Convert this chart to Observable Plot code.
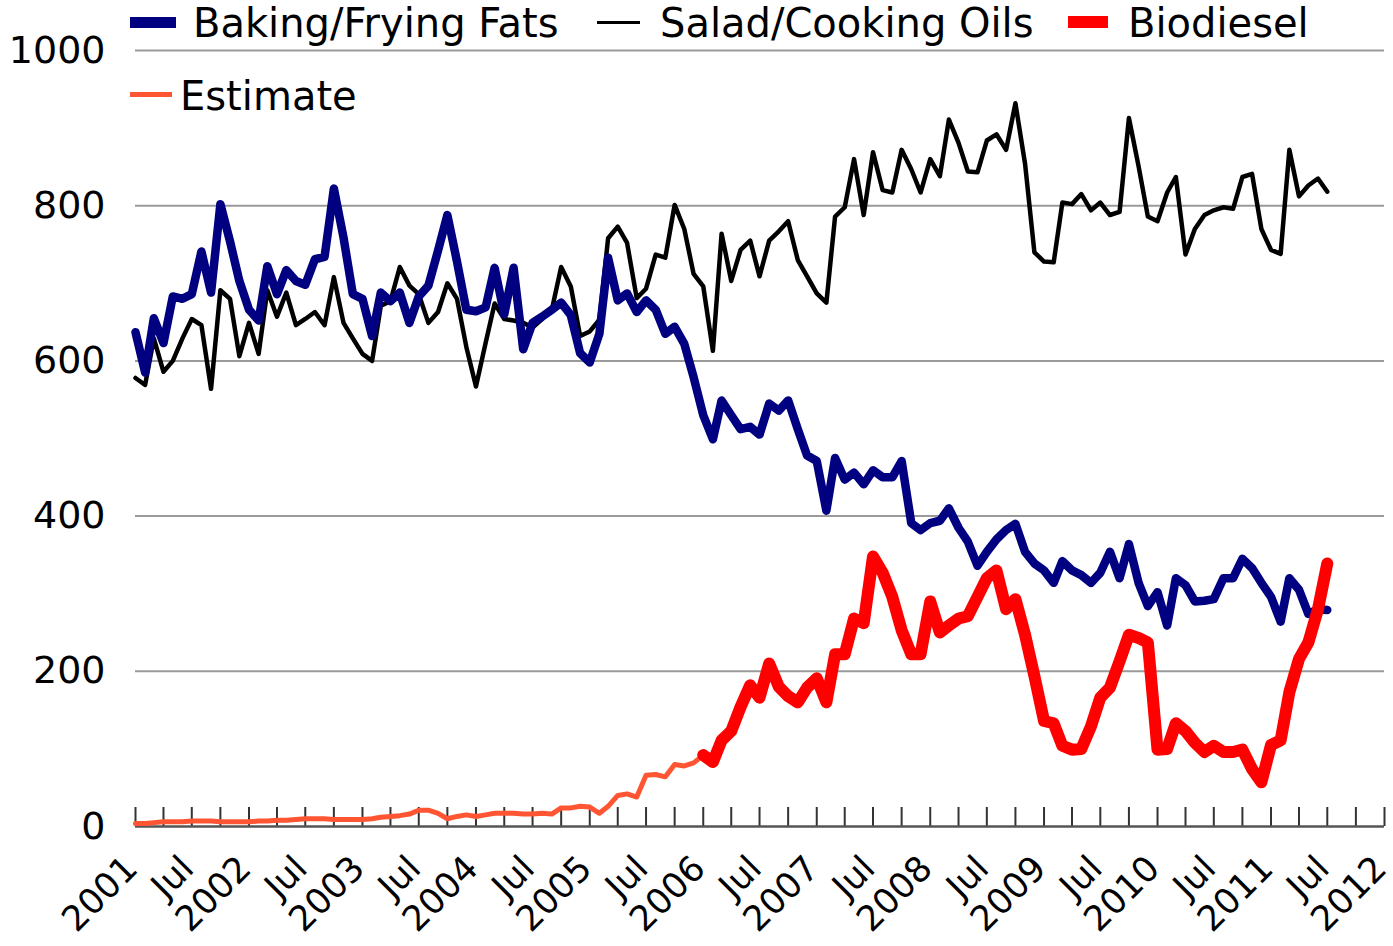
<!DOCTYPE html>
<html>
<head>
<meta charset="utf-8">
<script src="https://cdn.jsdelivr.net/npm/d3@7"></script>
<script src="https://cdn.jsdelivr.net/npm/@observablehq/plot@0.6"></script>
<style>
  body { margin: 0; background: #fff; }
  #wrap { position: relative; width: 1393px; height: 946px; font-family: "DejaVu Sans", sans-serif; }
  .sw { position: absolute; }
  .lt { position: absolute; font-size: 40px; line-height: 46px; color: #000; white-space: nowrap; }
</style>
</head>
<body>
<div id="wrap"><div id="chart"></div></div>
<script>
// ---- data (monthly, first month = Jan 2001) ----
const startYear = 2001;
const seriesNames = ["Baking/Frying Fats", "Salad/Cooking Oils", "Biodiesel", "Estimate"];
const seriesColors = ["#000080", "#000000", "#ff0000", "#ff5533"];

const bakingFats = [637,585,655,623,683,680,686,741,688,802,754,703,666,652,722,686,717,703,698,731,734,822,759,686,680,632,688,677,688,649,683,697,742,788,728,666,664,669,720,660,720,615,649,657,666,675,659,610,598,635,733,678,687,663,678,666,635,644,622,579,530,499,549,530,512,515,505,545,536,549,512,478,471,407,475,447,456,441,459,450,450,471,391,382,391,394,410,385,367,336,354,370,382,390,354,339,330,314,342,330,324,314,327,354,320,364,314,284,302,259,320,311,290,291,293,320,320,345,333,314,296,264,320,305,274,280,279];

const saladOils = [578,569,629,586,600,629,654,646,564,691,680,606,649,609,691,657,688,646,654,663,646,708,649,629,609,600,671,677,721,697,686,649,663,700,680,618,567,623,674,654,652,649,643,654,666,721,696,632,638,653,758,773,752,681,693,737,733,801,770,712,696,613,764,703,743,755,709,755,767,780,730,709,687,675,786,798,860,788,869,820,817,872,847,817,860,838,911,881,844,843,884,892,872,932,854,740,728,727,804,802,815,794,804,788,792,913,851,786,780,817,837,737,770,788,794,798,796,837,841,770,743,738,872,812,826,835,818];

// Biodiesel begins at month index 60 (Jan 2006)
const biodieselStart = 60;
const biodiesel = [92,83,111,123,154,182,166,210,180,168,160,179,191,160,222,222,268,262,348,327,296,253,222,222,290,250,259,268,271,296,320,330,280,293,247,194,136,133,104,99,100,129,166,179,213,247,243,237,99,100,133,123,108,96,104,96,96,99,74,57,105,111,173,216,237,280,339];

// Estimate covers months 0..60
const estimate = [4,4,5,6,6,6,7,7,7,6,6,6,6,7,7,8,8,9,10,10,10,9,9,9,9,10,12,13,14,16,21,21,17,10,13,15,13,15,17,17,17,16,16,17,16,24,24,26,25,17,26,40,42,38,66,67,64,80,78,82,92];

const yTicks = [0, 200, 400, 600, 800, 1000];
const yearSpan = [2001, 2012];
const midYearLabel = "Jul";

// ---- build tables ----
const monthDate = i => new Date(Date.UTC(startYear, i, 1));
const toRows = (arr, offset = 0) => arr.map((v, i) => ({date: monthDate(i + offset), value: v}));
const bakingRows = toRows(bakingFats);
const saladRows = toRows(saladOils);
const bioRows = toRows(biodiesel, biodieselStart);
const estRows = toRows(estimate);

const nMonths = (yearSpan[1] - yearSpan[0]) * 12;
const quarterTicks = d3.range(0, nMonths + 1, 3).map(monthDate);
const halfTicks = d3.range(0, nMonths + 1, 6).map(monthDate);

const W = 1393, H = 946, mT = 50, mB = 120, mL = 135, mR = 9;
const innerH = H - mT - mB;

const chart = Plot.plot({
  width: W, height: H,
  marginTop: mT, marginBottom: mB, marginLeft: mL, marginRight: mR,
  style: {fontFamily: "DejaVu Sans, sans-serif", background: "#fff", overflow: "visible", color: "#000"},
  x: {type: "utc", domain: [monthDate(0), monthDate(nMonths)], label: null},
  y: {domain: [0, 1000], label: null},
  marks: [
    Plot.gridY(yTicks.filter(d => d > 0), {stroke: "#9a9a9a", strokeOpacity: 1, strokeWidth: 2}),
    Plot.axisY(yTicks, {tickSize: 0, tickPadding: 30, fontSize: 38, fill: "#000", label: null, tickFormat: d => String(d)}),
    Plot.tickX(quarterTicks, {x: d => d, insetTop: innerH - 19, stroke: "#333", strokeWidth: 2}),
    Plot.ruleY([0], {stroke: "#555", strokeWidth: 2.5}),
    Plot.axisX(halfTicks, {
      tickSize: 0, tickRotate: -45, tickPadding: 36, dx: -4, fontSize: 35, fill: "#000", label: null,
      tickFormat: d => d.getUTCMonth() === 0 ? String(d.getUTCFullYear()) : midYearLabel
    }),
    Plot.line(saladRows, {x: "date", y: "value", stroke: seriesColors[1], strokeWidth: 4.5}),
    Plot.line(bakingRows, {x: "date", y: "value", stroke: seriesColors[0], strokeWidth: 8.5}),
    Plot.line(estRows, {x: "date", y: "value", stroke: seriesColors[3], strokeWidth: 5}),
    Plot.line(bioRows, {x: "date", y: "value", stroke: seriesColors[2], strokeWidth: 12})
  ]
});
document.getElementById("chart").appendChild(chart);

// ---- legend overlay ----
const legendItems = [
  {name: seriesNames[0], color: seriesColors[0], sw: [130, 17, 46, 11], tx: [193, 0]},
  {name: seriesNames[1], color: seriesColors[1], sw: [597, 21, 43, 3], tx: [660, 0]},
  {name: seriesNames[2], color: seriesColors[2], sw: [1068, 16, 40, 12], tx: [1128, 0]},
  {name: seriesNames[3], color: seriesColors[3], sw: [130, 92, 42, 5], tx: [180, 73]}
];
const wrap = document.getElementById("wrap");
for (const it of legendItems) {
  const s = document.createElement("div");
  s.className = "sw";
  s.style.cssText = `left:${it.sw[0]}px;top:${it.sw[1]}px;width:${it.sw[2]}px;height:${it.sw[3]}px;background:${it.color}`;
  wrap.appendChild(s);
  const t = document.createElement("div");
  t.className = "lt";
  t.style.left = it.tx[0] + "px";
  t.style.top = it.tx[1] + "px";
  t.textContent = it.name;
  wrap.appendChild(t);
}
</script>
</body>
</html>
